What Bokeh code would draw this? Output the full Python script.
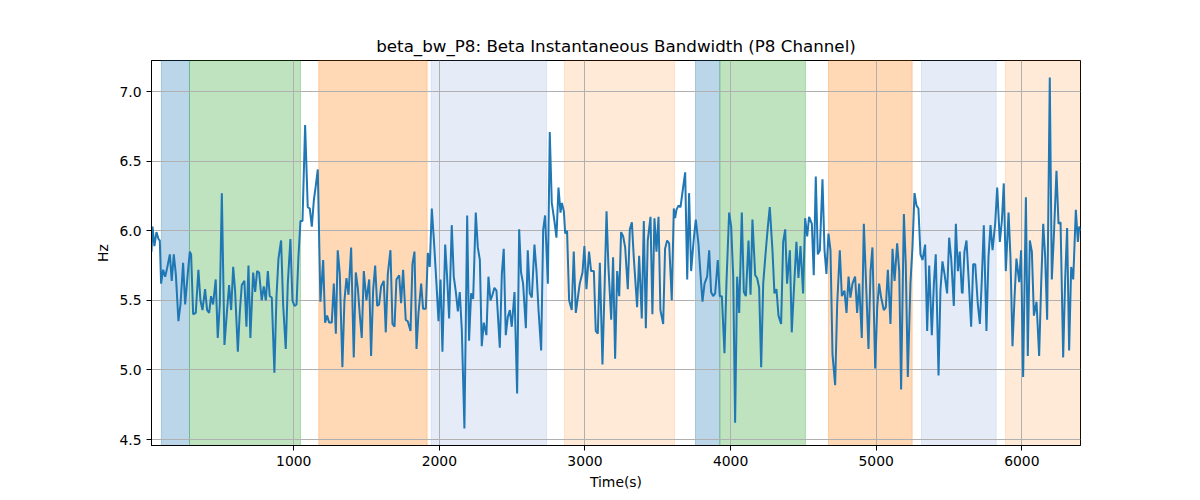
from bokeh.plotting import figure
from bokeh.models import Range1d, BoxAnnotation, FixedTicker, NumeralTickFormatter, ColumnDataSource
from bokeh.embed import file_html
from bokeh.resources import INLINE

# ---- data ----
time_s = [
    23, 30, 43, 57, 71, 80, 89, 103, 117, 130, 149, 162, 176, 190, 208, 222, 240, 254, 272, 286, 295,
    309, 327, 345, 359, 373, 391, 405, 419, 432, 446, 464, 478, 492, 506, 524, 542, 556, 570, 584, 597,
    616, 629, 643, 661, 675, 689, 702, 721, 735, 748, 762, 780, 794, 808,
    822, 835, 849, 867, 881, 895, 913, 927, 945, 959, 977, 991, 1005, 1019, 1032, 1046, 1060, 1078,
    1096, 1110, 1124, 1138, 1151, 1165, 1183, 1202, 1215, 1229, 1243, 1261, 1275, 1289, 1302, 1316,
    1334, 1348, 1362, 1376, 1394, 1412, 1426, 1440, 1453, 1467, 1481, 1499, 1518, 1531, 1545, 1559,
    1573, 1586, 1600,
    1618, 1632, 1646, 1664, 1678, 1692, 1705, 1724, 1737, 1751, 1769, 1783, 1802, 1815, 1829, 1843,
    1856, 1875, 1888, 1907, 1921, 1934, 1948, 1962, 1980, 1994, 2008, 2021, 2040, 2053, 2067, 2085,
    2099, 2113, 2127, 2140, 2154, 2172, 2191, 2204, 2218, 2232, 2250, 2264, 2278, 2291, 2305, 2323,
    2337, 2351, 2365, 2378, 2392,
    2415, 2429, 2442, 2456, 2470, 2484, 2497, 2516, 2534, 2548, 2561, 2575, 2594, 2607, 2621, 2635,
    2653, 2667, 2681, 2699, 2713, 2726, 2745, 2758, 2772, 2790, 2804, 2818, 2832, 2841, 2855, 2864,
    2877, 2891, 2909, 2923, 2937, 2951, 2964, 2983, 2996, 3010, 3028, 3042, 3061, 3074, 3088, 3102,
    3120, 3134, 3148, 3161, 3180, 3193,
    3207, 3221, 3235, 3248, 3262, 3276, 3294, 3308, 3322, 3335, 3358, 3372, 3390, 3404, 3418, 3431,
    3450, 3463, 3477, 3491, 3505, 3518, 3537, 3550, 3564, 3578, 3596, 3610, 3619, 3628, 3642, 3656,
    3670, 3688, 3702, 3715, 3729, 3747, 3761, 3779, 3793, 3807, 3821, 3839, 3853, 3866, 3880, 3894,
    3912, 3926, 3940, 3958, 3972, 3990,
    4004, 4018, 4031, 4045, 4059, 4077, 4091, 4105, 4123, 4137, 4150, 4169, 4182, 4196, 4210, 4224,
    4242, 4256, 4269, 4288, 4301, 4315, 4329, 4347, 4361, 4375, 4388, 4407, 4420, 4434, 4452, 4466,
    4480, 4498, 4512, 4526, 4539, 4558, 4571, 4585, 4599, 4613, 4631, 4645, 4658, 4672, 4686, 4700,
    4718, 4732, 4750, 4764, 4782,
    4796, 4810, 4823, 4837, 4855, 4869, 4883, 4901, 4915, 4933, 4947, 4961, 4974, 4993, 5007, 5020,
    5034, 5052, 5066, 5080, 5098, 5112, 5126, 5144, 5158, 5171, 5190, 5203, 5217, 5235, 5249, 5263,
    5277, 5290, 5304, 5318, 5336, 5350, 5364, 5382, 5396, 5409, 5428, 5441, 5455, 5469, 5487, 5501,
    5515, 5533, 5547, 5561, 5574, 5588,
    5593, 5606, 5620, 5634, 5652, 5666, 5680, 5698, 5712, 5725, 5739, 5757, 5771, 5785, 5799, 5817,
    5831, 5849, 5863, 5876, 5890, 5909, 5922, 5936, 5950, 5963, 5982, 5995, 6009, 6028, 6041, 6055,
    6069, 6083, 6101, 6119, 6133, 6147, 6160, 6174, 6192, 6206, 6220, 6238, 6252, 6266, 6284, 6298,
    6311, 6325, 6339, 6353, 6371, 6385, 6394, 6403,
]
beta_bw_hz = [
    5.85, 6.03, 5.89, 5.99, 5.94, 5.93, 5.62, 5.72, 5.67, 5.73, 5.83, 5.64, 5.83, 5.69, 5.35, 5.47, 5.77, 5.47, 5.69, 5.85, 5.83,
    5.40, 5.41, 5.72, 5.50, 5.43, 5.58, 5.43, 5.41, 5.53, 5.47, 5.65, 5.23, 5.47, 6.27, 5.18, 5.43, 5.61, 5.43, 5.74, 5.57,
    5.13, 5.41, 5.61, 5.64, 5.31, 5.75, 5.23, 5.70, 5.56, 5.71, 5.70, 5.50, 5.60, 5.50,
    5.71, 5.53, 5.52, 4.98, 5.52, 5.80, 5.93, 5.47, 5.15, 5.62, 5.94, 5.50, 5.46, 5.47, 5.81, 6.07, 6.07, 6.76,
    6.17, 6.16, 6.03, 6.22, 6.32, 6.44, 5.49, 5.79, 5.34, 5.39, 5.34, 5.34, 5.62, 5.26, 5.86, 5.69,
    5.02, 5.50, 5.66, 5.54, 5.88, 5.09, 5.70, 5.59, 5.40, 5.23, 5.71, 5.50, 5.65, 5.10, 5.57, 5.75,
    5.46, 5.47, 5.60,
    5.64, 5.27, 5.69, 5.86, 5.33, 5.31, 5.65, 5.68, 5.48, 5.72, 5.36, 5.35, 5.28, 5.76, 5.85, 5.15,
    5.40, 5.62, 5.44, 5.44, 5.84, 5.74, 6.16, 5.94, 5.62, 5.35, 5.65, 5.13, 5.90, 5.67, 5.37, 6.04,
    5.67, 5.56, 5.42, 5.56, 5.29, 4.58, 6.11, 5.21, 5.55, 5.51, 6.13, 5.88, 5.79, 5.17, 5.34, 5.25,
    5.67, 5.50, 5.54, 5.59, 5.57,
    5.16, 5.69, 5.87, 5.25, 5.38, 5.43, 5.31, 5.56, 4.83, 6.01, 5.70, 5.62, 5.30, 5.86, 5.55, 5.52,
    5.90, 5.71, 5.43, 5.14, 6.01, 6.11, 5.62, 6.71, 6.20, 6.07, 5.95, 6.31, 6.13, 6.20, 6.14, 5.98,
    6.00, 5.50, 5.43, 5.85, 5.41, 5.52, 5.62, 5.70, 5.89, 5.58, 5.85, 5.71, 5.71, 5.28, 5.26, 5.77,
    5.04, 5.57, 6.14, 5.74, 5.36, 5.81,
    5.08, 5.71, 5.53, 5.99, 5.96, 5.88, 5.58, 6.01, 6.06, 5.81, 5.45, 5.82, 5.37, 6.07, 5.30, 5.93,
    6.10, 5.40, 6.09, 5.85, 6.10, 5.43, 5.33, 5.87, 5.93, 5.91, 5.50, 6.16, 6.09, 6.15, 6.18, 6.17,
    6.28, 6.42, 5.65, 6.27, 5.71, 5.94, 6.08, 5.91, 5.69, 5.49, 5.62, 5.67, 5.86, 5.56, 5.53, 5.55,
    5.79, 5.53, 5.53, 5.12, 5.64, 6.13,
    6.03, 5.67, 4.62, 5.67, 5.41, 6.13, 5.56, 5.53, 5.93, 5.54, 6.08, 5.68, 5.66, 5.59, 5.02, 5.62,
    5.86, 6.03, 6.17, 5.85, 5.55, 5.58, 5.39, 5.33, 5.92, 6.01, 5.62, 5.86, 5.27, 5.56, 5.92, 5.66,
    5.89, 5.55, 6.09, 5.96, 6.10, 6.05, 5.68, 6.39, 5.83, 5.86, 6.37, 5.86, 5.69, 5.98, 5.86, 5.11,
    4.89, 5.47, 5.86, 5.53, 5.57,
    5.41, 5.67, 5.52, 5.62, 5.67, 5.41, 5.62, 5.23, 6.05, 5.55, 5.15, 5.71, 5.88, 5.01, 5.45, 5.62,
    5.52, 5.43, 5.45, 5.72, 5.33, 5.87, 5.64, 5.91, 5.71, 4.86, 6.12, 5.76, 4.95, 5.62, 5.88, 6.27,
    6.18, 6.16, 5.83, 5.79, 5.90, 5.28, 5.75, 5.25, 5.62, 5.83, 4.96, 5.57, 5.78, 5.69, 5.55, 5.95,
    5.80, 5.46, 6.05, 5.71, 5.85, 5.56,
    5.55, 5.85, 5.93, 5.67, 5.31, 5.76, 5.76, 5.47, 5.33, 5.64, 6.04, 5.28, 5.81, 6.04, 5.86, 6.05,
    6.31, 5.92, 6.07, 6.34, 5.71, 6.13, 5.81, 5.17, 5.52, 5.80, 5.63, 5.86, 4.95, 6.24, 5.10, 5.93,
    5.85, 5.39, 5.49, 5.10, 5.62, 6.05, 5.82, 5.36, 7.10, 5.65, 5.96, 6.43, 6.05, 6.06, 5.09, 5.66,
    6.02, 5.14, 5.74, 5.65, 6.15, 5.92, 6.03, 6.00,
]

# shaded state segments
seg_start = [91, 284, 1172, 1944, 2859, 3759, 3926, 4672, 5311, 5887]
seg_end = [284, 1046, 1916, 2736, 3615, 3926, 4514, 5247, 5824, 6460]
seg_color = ["#1f77b4", "#2ca02c", "#ff7f0e", "#6f95d8", "#ff7f0e",
             "#1f77b4", "#2ca02c", "#ff7f0e", "#6f95d8", "#ff7f0e"]
seg_alpha = [0.3, 0.3, 0.3, 0.18, 0.16, 0.3, 0.3, 0.3, 0.18, 0.16]

x_ticks = [1000, 2000, 3000, 4000, 5000, 6000]
y_ticks = [4.5, 5.0, 5.5, 6.0, 6.5, 7.0]

p = figure(width=1192, height=492, output_backend="svg", toolbar_location=None,
           x_range=Range1d(23, 6403), y_range=Range1d(4.457, 7.223),
           title="beta_bw_P8: Beta Instantaneous Bandwidth (P8 Channel)",
           min_border_left=151, min_border_right=112, min_border_top=60, min_border_bottom=47)

for s, e, c, a in zip(seg_start, seg_end, seg_color, seg_alpha):
    p.add_layout(BoxAnnotation(left=s, right=e, fill_color=c, fill_alpha=a,
                               line_color=c, line_alpha=a, line_width=1, level="image"))

src = ColumnDataSource(dict(t=time_s, v=beta_bw_hz))
p.line("t", "v", source=src, line_color="#1f77b4", line_width=2)

p.title.align = "center"
p.title.text_font = "DejaVu Sans"
p.title.text_font_size = "16.7px"
p.title.text_font_style = "normal"
p.title.text_color = "black"

p.xaxis.axis_label = "Time(s)"
p.yaxis.axis_label = "Hz"
p.xaxis.ticker = FixedTicker(ticks=x_ticks)
p.yaxis.ticker = FixedTicker(ticks=y_ticks)
p.yaxis.formatter = NumeralTickFormatter(format="0.0")
for ax in (p.xaxis[0], p.yaxis[0]):
    ax.axis_label_text_font = "DejaVu Sans"
    ax.axis_label_text_font_size = "13.9px"
    ax.axis_label_text_font_style = "normal"
    ax.axis_label_text_color = "black"
    ax.major_label_text_font = "DejaVu Sans"
    ax.major_label_text_font_size = "13.9px"
    ax.major_label_text_color = "black"
    ax.minor_tick_line_color = None
    ax.major_tick_out = 5
    ax.major_tick_in = 0
    ax.major_tick_line_color = "black"
    ax.axis_line_color = "black"

p.grid.grid_line_color = "#b0b0b0"
p.grid.grid_line_width = 1
p.outline_line_color = "black"
p.outline_line_width = 1
p.outline_line_alpha = 1

open("out.html", "w").write(file_html(p, INLINE))
